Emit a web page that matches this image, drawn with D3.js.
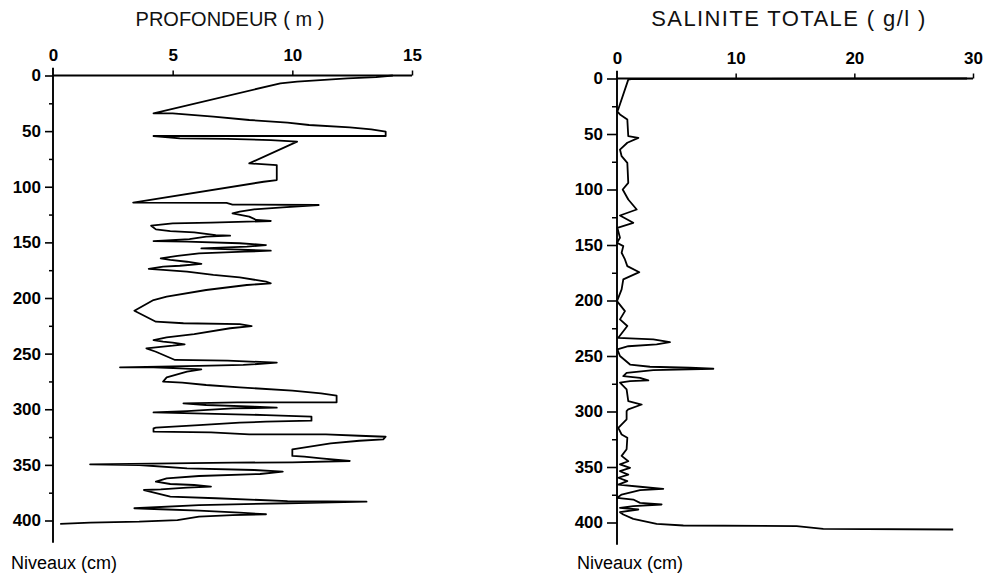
<!DOCTYPE html>
<html>
<head>
<meta charset="utf-8">
<script src="https://cdn.jsdelivr.net/npm/d3@7/dist/d3.min.js"></script>
<style>
  html, body { margin: 0; padding: 0; background: #fff; }
  svg { display: block; }
  .tick text { font-family: "Liberation Sans", Arial, sans-serif; font-weight: bold; font-size: 17px; fill: #000; }
  .title { font-family: "Liberation Sans", Arial, sans-serif; font-size: 20px; fill: #111; }
  .ylab { font-family: "Liberation Sans", Arial, sans-serif; font-size: 18px; fill: #000; }
</style>
</head>
<body>
<svg id="chart" width="987" height="581"></svg>
<script>
// ---------- DATA ----------
const levelTicks = [0, 50, 100, 150, 200, 250, 300, 350, 400];
const levelMinorTicks = [25, 75, 125, 175, 225, 275, 325, 375];
const depthTicks = [0, 5, 10, 15];
const salinityTicks = [0, 10, 20, 30];

// PROFONDEUR (m) vs niveau (cm)
const profDepth = [14.2,13.5,12.3,10.2,9.5,4.2,5.0,6.7,8.2,9.8,10.7,12.4,13.3,13.9,13.9,4.2,5.3,7.3,9.1,10.2,8.2,9.35,9.35,8.8,3.35,7.25,7.5,11.1,9.6,8.4,7.8,7.5,8.2,8.5,9.1,6.6,5.0,4.1,4.3,4.9,5.9,6.8,7.4,6.4,5.7,4.2,5.6,7.8,8.9,8.1,6.2,7.5,9.1,8.0,6.1,5.2,4.5,4.9,5.6,6.2,5.3,4.6,4.0,4.6,5.6,6.7,7.8,8.9,9.1,8.1,6.4,4.75,4.2,3.4,4.3,5.45,7.8,8.3,7.4,5.9,4.75,4.2,4.6,5.0,5.5,5.0,3.9,4.3,5.1,7.3,9.35,7.95,6.1,2.8,4.2,5.3,6.2,5.6,4.75,4.6,5.4,6.4,7.8,10.0,11.2,11.85,11.85,7.7,5.45,6.4,8.4,9.35,7.5,5.6,4.2,5.9,8.9,10.8,10.8,8.9,7.8,6.1,4.3,4.2,4.2,6.6,8.2,11.4,12.8,13.9,13.8,12.8,11.6,10.0,10.0,10.5,11.2,12.4,10.0,7.5,1.55,3.6,5.6,8.4,9.6,8.65,6.1,4.75,4.3,4.9,5.9,6.6,5.6,4.5,3.8,4.9,6.8,9.8,13.1,9.8,6.1,3.4,4.5,6.1,7.8,8.9,7.5,6.1,5.2,3.6,1.55,0.3];
const profLevel = [0,1.5,2.5,5.5,7,34,34,37,40,42.4,44.5,46.6,48.4,50.5,54.4,54.4,56.5,57,58,59.5,79,80.5,94,95.5,114.3,114.5,116,116.4,118.5,120.3,122.4,123.9,126.9,129.9,130.8,132.3,132.9,135,138.3,139.8,141,143.4,144,144.9,147,148.8,149.4,150.8,152.4,153.9,155.4,156.3,157.5,158.4,159.9,162.2,164.3,165.8,167.4,169.4,171,171.8,173.9,174.8,176.3,179.3,181.4,185.3,186.8,188.3,192.8,198.8,201.8,211.4,221.3,222.7,223.4,225.2,227.2,232.4,235.3,237.8,239.3,240.2,241.6,242.9,245.2,248.3,255.7,256.3,258.1,260.2,261.1,262.3,262.3,263.2,264.1,266.2,271.3,275.2,276.1,278.2,280.3,283.3,285.7,287.8,293.8,293.8,294.7,296.2,297.7,298.6,299.2,301.6,302.8,303.7,305.2,306.7,310.3,311.2,312.1,314.2,316.6,317.1,320.2,320.7,322.5,322.5,323.8,324.7,327,328.3,330.6,336,342,342.6,344.1,346.5,347.7,348,349.5,350.1,353.1,354.6,356.1,358.2,360,362.1,365.1,367.2,368.1,369.6,370.5,372,372.6,378.6,380,382.5,383.1,384.5,386.1,389,389.9,391.2,393,394.4,395.1,396.6,399.6,401.1,402,403.1];

// SALINITE TOTALE (g/l) vs niveau (cm)
const salValue = [29.5,1.2,0.95,0.1,0,0.25,0.87,0.95,1.8,0.87,0.25,0.39,0.87,0.95,0.48,0.95,1.66,0.25,1.37,0.03,0.25,0,0.53,0.39,0.67,0.87,1.88,0.53,0.39,0,0.67,0.25,0.87,0.11,3.06,4.46,3.34,0.95,0.03,0.25,1.1,2.78,6.15,8.12,3.06,0.81,0.53,1.94,2.64,1.1,0.25,0.81,0.95,2.08,0.95,0.81,0.81,0.11,0.39,0.87,0.81,0.39,0.95,0.25,1.1,0.25,0.95,0.11,0.87,0.11,1.94,3.9,1.94,0.39,0,1.37,1.94,3.76,1.37,0.25,1.8,0.25,0.53,1.37,3.34,5.59,15.14,17.38,28.33];
const salLevel = [0,0.5,1,28,29.4,32.4,36.9,52,53.5,57.9,64,70,76,94,100,109,118,123.4,130,134.5,143.5,148,151,157,163,169,174.5,181,190,200.6,209.6,217,223,233.6,235,237.6,239.6,241.2,244,250,257.7,259.7,260.6,261.5,262.8,265.2,268.2,269.7,272,272.6,274,280,290.7,293.7,298,299.7,307,314.7,320.7,323.7,334,340,344.8,347.7,350.7,353.8,356.8,359.7,362.8,365.8,367.8,369.7,370.9,374.8,377.8,379.3,382.3,383.8,385.3,386.8,388.3,390.7,392.8,396.7,401.2,402.7,403.3,405.7,406.3];

// ---------- DRAW ----------
const svg = d3.select("#chart");

function panel(cfg) {
  const g = svg.append("g");
  const x = d3.scaleLinear().domain(cfg.xDomain).range(cfg.xRange);
  const y = d3.scaleLinear().domain([0, 400]).range(cfg.yRange);

  // x axis (top)
  const xa = g.append("g").attr("transform", `translate(0,${y(0)})`)
    .call(d3.axisTop(x).tickValues(cfg.xTicks).tickSize(5).tickPadding(10).tickFormat(d3.format("d")));
  xa.select(".domain").remove();
  xa.selectAll(".tick line").attr("stroke", "#000").attr("stroke-width", 1.5);
  xa.selectAll(".tick").filter(d => d === 0).select("line").remove();
  g.append("line").attr("x1", x(cfg.xDomain[0])).attr("x2", x(cfg.xDomain[1]))
    .attr("y1", y(0)).attr("y2", y(0)).attr("stroke", "#000").attr("stroke-width", 1.8);

  // y axis (left)
  const ya = g.append("g").attr("transform", `translate(${x(0)},0)`)
    .call(d3.axisLeft(y).tickValues(levelTicks).tickSize(cfg.tickLen).tickPadding(4).tickFormat(d3.format("d")));
  ya.select(".domain").remove();
  ya.selectAll(".tick line").attr("stroke", "#000").attr("stroke-width", 1.6);
  const ym = g.append("g").attr("transform", `translate(${x(0)},0)`)
    .call(d3.axisLeft(y).tickValues(levelMinorTicks).tickSize(cfg.tickLen / 2).tickFormat(""));
  ym.select(".domain").remove();
  ym.selectAll(".tick line").attr("stroke", "#000").attr("stroke-width", 1.5);
  g.append("line").attr("x1", x(0)).attr("x2", x(0))
    .attr("y1", y(-7)).attr("y2", y(420)).attr("stroke", "#000").attr("stroke-width", 1.9);

  // profile line
  const pts = cfg.values.map((v, i) => [v, cfg.levels[i]]);
  g.append("path").datum(pts)
    .attr("fill", "none").attr("stroke", "#000").attr("stroke-width", 1.8)
    .attr("stroke-linejoin", "round")
    .attr("d", d3.line().x(d => x(d[0])).y(d => y(d[1])));

  // titles
  g.append("text").attr("class", "title").attr("x", cfg.titleX).attr("y", 26)
    .attr("text-anchor", "middle").style("font-size", cfg.titleSize + "px")
    .style("letter-spacing", cfg.titleSpacing + "px").text(cfg.title);
  g.append("text").attr("class", "ylab").attr("x", cfg.labelX).attr("y", 569).text("Niveaux (cm)");
}

panel({
  xDomain: [0, 15], xRange: [53, 412], yRange: [75.5, 520.5], xTicks: depthTicks,
  values: profDepth, levels: profLevel, tickLen: 8,
  title: "PROFONDEUR ( m )", titleX: 230, titleSize: 20, titleSpacing: 0, labelX: 11
});
panel({
  xDomain: [0, 30], xRange: [617, 973], yRange: [78.5, 522.5], xTicks: salinityTicks,
  values: salValue, levels: salLevel, tickLen: 10,
  title: "SALINITE TOTALE ( g/l )", titleX: 789, titleSize: 22, titleSpacing: 1.4, labelX: 577
});
</script>
</body>
</html>
